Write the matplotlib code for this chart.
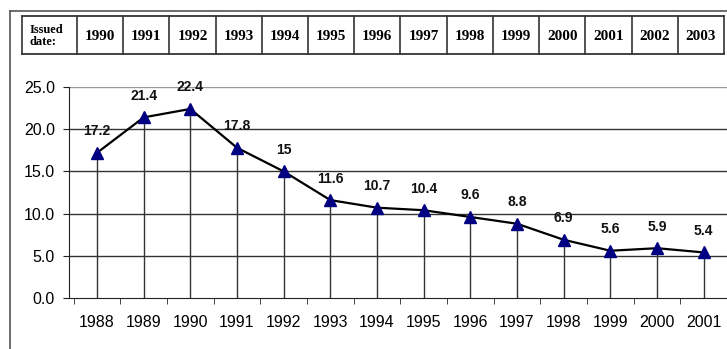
import matplotlib
matplotlib.use("Agg")
import matplotlib.pyplot as plt
from matplotlib.lines import Line2D

# Data
years = ["1988", "1989", "1990", "1991", "1992", "1993", "1994",
         "1995", "1996", "1997", "1998", "1999", "2000", "2001"]
values = [17.2, 21.4, 22.4, 17.8, 15, 11.6, 10.7, 10.4, 9.6, 8.8, 6.9, 5.6, 5.9, 5.4]
value_labels = ["17.2", "21.4", "22.4", "17.8", "15", "11.6", "10.7",
                "10.4", "9.6", "8.8", "6.9", "5.6", "5.9", "5.4"]
header_label = "Issued\ndate:"
issued_years = ["1990", "1991", "1992", "1993", "1994", "1995", "1996",
                "1997", "1998", "1999", "2000", "2001", "2002", "2003"]
y_ticks = [0, 5, 10, 15, 20, 25]

W, H = 727, 349
fig = plt.figure(figsize=(W / 100, H / 100), dpi=100)
fig.patch.set_facecolor("white")


def fx(px):
    return px / W


def fy(py):
    return 1 - py / H


# Outer frame (top and left edges)
fig.add_artist(Line2D([fx(10), fx(10)], [fy(11), fy(H)], color="#555555", lw=1.2))
fig.add_artist(Line2D([fx(10), fx(W)], [fy(11), fy(11)], color="#555555", lw=1.2))

# Header table
t_left, t_right, t_top, t_bot = 22, 724, 16, 54
label_w = 55
col_w = (t_right - t_left - label_w) / len(issued_years)
for yy in (t_top, t_bot):
    fig.add_artist(Line2D([fx(t_left), fx(t_right)], [fy(yy), fy(yy)], color="#222222", lw=1.2))
xs = [t_left, t_left + label_w] + [t_left + label_w + col_w * (i + 1) for i in range(len(issued_years))]
for xx in xs:
    fig.add_artist(Line2D([fx(xx), fx(xx)], [fy(t_top), fy(t_bot)], color="#333333", lw=1.2))
fig.text(fx(t_left + 8), fy((t_top + t_bot) / 2 + 1), header_label, ha="left", va="center",
         family="Liberation Serif", fontweight="bold", fontsize=9, linespacing=1.1)
for i, yr in enumerate(issued_years):
    cx = t_left + label_w + col_w * (i + 0.5)
    fig.text(fx(cx), fy((t_top + t_bot) / 2 + 1), yr, ha="center", va="center",
             family="Liberation Serif", fontweight="bold", fontsize=11)

# Chart area
ax_left, ax_right, ax_top, ax_bot = 69, 727, 87, 298
ax = fig.add_axes([fx(ax_left), fy(ax_bot), fx(ax_right - ax_left), (ax_bot - ax_top) / H])
ax.set_facecolor("none")
x = list(range(len(years)))
ax.set_xlim(-0.6, len(years) - 0.51)
ax.set_ylim(0, 25)

for yv in y_ticks[1:]:
    ax.axhline(yv, color="#999999" if yv == 25 else "#333333", lw=1.0, zorder=1)

# Drop lines from each point to the axis
ax.vlines(x, 0, values, colors="#333333", lw=1.0, zorder=2)
ax.plot(x, values, color="black", lw=1.6, zorder=3)
ax.plot(x, values, linestyle="none", marker="^", markersize=9,
        markerfacecolor="#000080", markeredgecolor="#000080", zorder=4)

for xi, v, lab in zip(x, values, value_labels):
    ax.annotate(lab, (xi, v), xytext=(0, 10.5), textcoords="offset points",
                ha="center", va="bottom", fontsize=10, fontweight="bold",
                family="Liberation Sans", color="#111111")

for s in ("top", "right"):
    ax.spines[s].set_visible(False)
ax.spines["left"].set_color("#222222")
ax.spines["bottom"].set_color("#222222")

ax.set_yticks(y_ticks)
ax.set_yticklabels([f"{v:.1f}" for v in y_ticks], family="Liberation Sans", fontsize=11.5)
ax.set_xticks(x)
ax.set_xticklabels(years, family="Liberation Sans", fontsize=11.5)
ax.set_xticks([i - 0.5 for i in range(len(years) + 1)], minor=True)
ax.tick_params(axis="x", which="major", length=0, pad=12)
ax.tick_params(axis="x", which="minor", length=4, color="#222222")
ax.tick_params(axis="y", length=4, pad=6, color="#222222")

fig.savefig("out.png", dpi=100)
